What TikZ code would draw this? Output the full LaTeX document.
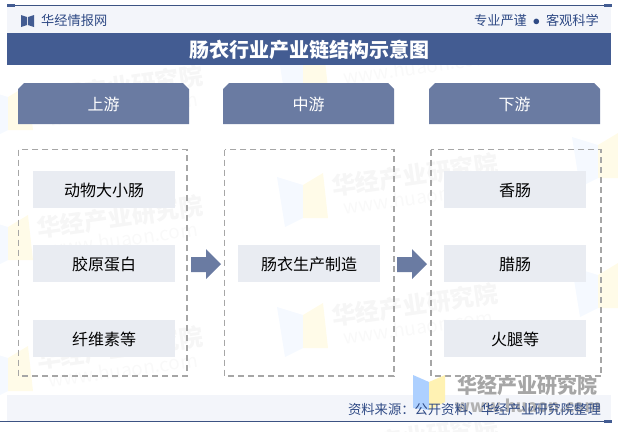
\documentclass[tikz,border=0pt]{standalone}
\usepackage{fontspec}
\setmainfont{Noto Sans CJK SC}
\usetikzlibrary{positioning}
\definecolor{bandblue}{HTML}{435C92}
\definecolor{headblue}{HTML}{6A7BA2}
\definecolor{paleband}{HTML}{F3F5FA}
\definecolor{itemgrey}{HTML}{E9ECF2}
\definecolor{dashgrey}{HTML}{A6A6A6}
\definecolor{inkblue}{HTML}{2F4A85}
\definecolor{logoblue}{HTML}{ADD0FF}
\definecolor{logoyellow}{HTML}{FFF2B3}
\tikzset{
  itembox/.style={fill=itemgrey, minimum width=142bp, minimum height=37bp, inner sep=0pt, text height=14bp, text depth=0pt, font=\fontsize{16bp}{18bp}\selectfont, text=black},
  headtext/.style={text=white, font=\fontsize{16bp}{18bp}\selectfont},
  dashbox/.style={draw=dashgrey, line width=1.4bp, dash pattern=on 6bp off 4bp},
  flowarr/.style={fill=headblue, draw=none},
  marktext/.style={text=black!3.5, rotate=8, font=\bfseries\fontsize{24bp}{26bp}\selectfont},
  markweb/.style={text=black!2.5, rotate=8, font=\fontsize{19bp}{21bp}\selectfont}
}
\begin{document}
\begin{tikzpicture}[x=1bp,y=-1bp]
        \useasboundingbox (0,0) rectangle (618,431);
        % faint marks behind everything
        \foreach \x/\y in {120/87,120/217,120/348,415/45,415/175,415/305,710/135,710/265}{
            \fill[logoblue!12] (\x-138,\y+2) -- (\x-112,\y+10) -- (\x-112,\y+43) -- (\x-130,\y+52) -- cycle;
            \fill[logoyellow!30] (\x-112,\y+10) -- (\x-92,\y-2) -- (\x-87,\y+43) -- (\x-112,\y+43) -- cycle;
        }
        \foreach \x/\y/\n in {120/87/a,120/217/b,120/348/c,415/175/e,415/305/f,415/437/g}{
            \node[marktext] (mark\n) at (\x,\y) {华经产业研究院};
        }
        \foreach \x/\y/\n in {123/109/a,123/239/b,123/370/c,418/67/d,418/197/e,418/327/f}{
            \node[markweb] (web\n) at (\x,\y) {www.huaon.com};
        }
        % header and title
        \fill[paleband] (7,5) rectangle (611,33);
        \fill[paleband] (7,395) rectangle (611,421);
        \fill[bandblue] (7,33) rectangle (611,65);
        \draw[bandblue!90!black, line width=1bp] (7,5.5) -- (611,5.5);
        \draw[bandblue!90!black, line width=1bp] (0,421.5) -- (611,421.5);
        \fill[bandblue] (7,4) rectangle (15,7);
        \fill[bandblue] (604,4) rectangle (612,7);
        \fill[bandblue] (604,420) rectangle (612,423);
        \fill[bandblue] (21,15) -- (27,17) -- (27,25) -- (21,27) -- cycle;
        \fill[bandblue] (34,15) -- (28,17) -- (28,25) -- (34,27) -- cycle;
        \node[text=inkblue, anchor=west, inner sep=0pt, font=\fontsize{13.2bp}{15bp}\selectfont] (site) at (41,20) {华经情报网};
        \node[text=inkblue, anchor=east, inner sep=0pt, font=\fontsize{13.2bp}{15bp}\selectfont] (motto) at (599,20) {专业严谨\hspace{3bp} $\bullet$ \hspace{3bp}客观科学};
        \node[text=white, font=\bfseries\fontsize{20bp}{22bp}\selectfont] (title) at (309,50) {肠衣行业产业链结构示意图};
        % column heads
        \foreach \x/\name/\txt in {18/up/上游,223/mid/中游,429/down/下游}{
            \fill[headblue] (\x,124) -- (\x,89) -- (\x+6,83) -- (\x+165,83) -- (\x+171,89) -- (\x+171,124) -- cycle;
            \node[headtext] (\name) at (\x+85.5,104) {\txt};
        }
        % dashed frames
        \draw[dashbox] (18.5,149.5) rectangle (187,376);
        \draw[dashbox] (224.5,149.5) rectangle (394,376);
        \draw[dashbox] (431,149.5) rectangle (601,376);
        % items
        \node[itembox] (casing1) at (104,189.5) {动物大小肠};
        \node[itembox,below=37bp of casing1] (casing2) {胶原蛋白};
        \node[itembox,below=37bp of casing2] (casing3) {纤维素等};
        \node[itembox] (maker) at (309,263.5) {肠衣生产制造};
        \node[itembox] (food1) at (515,189.5) {香肠};
        \node[itembox,below=37bp of food1] (food2) {腊肠};
        \node[itembox,below=37bp of food2] (food3) {火腿等};
        % arrows
        \foreach \x in {191,397}{
            \fill[flowarr] (\x,257) -- (\x+15,257) -- (\x+15,249) -- (\x+30,264) -- (\x+15,279) -- (\x+15,272) -- (\x,272) -- cycle;
        }
        % big mark at the lower right
        \fill[logoblue] (413,375) -- (429,382) -- (429,410) -- (413,408) -- cycle;
        \fill[logoyellow] (429,382) -- (445,375) -- (445,402) -- (429,410) -- cycle;
        \node[text=black!35, font=\bfseries\fontsize{20bp}{22bp}\selectfont] (brand) at (527,386) {华经产业研究院};
        \node[text=black!30, font=\bfseries\fontsize{17bp}{19bp}\selectfont] (brandweb) at (528,406) {www.huaon.com};
        \node[text=inkblue, anchor=east, inner sep=0pt, font=\fontsize{13.3bp}{15bp}\selectfont] (source) at (601,409) {资料来源：公开资料、华经产业研究院整理};
    \end{tikzpicture}
\end{document}
